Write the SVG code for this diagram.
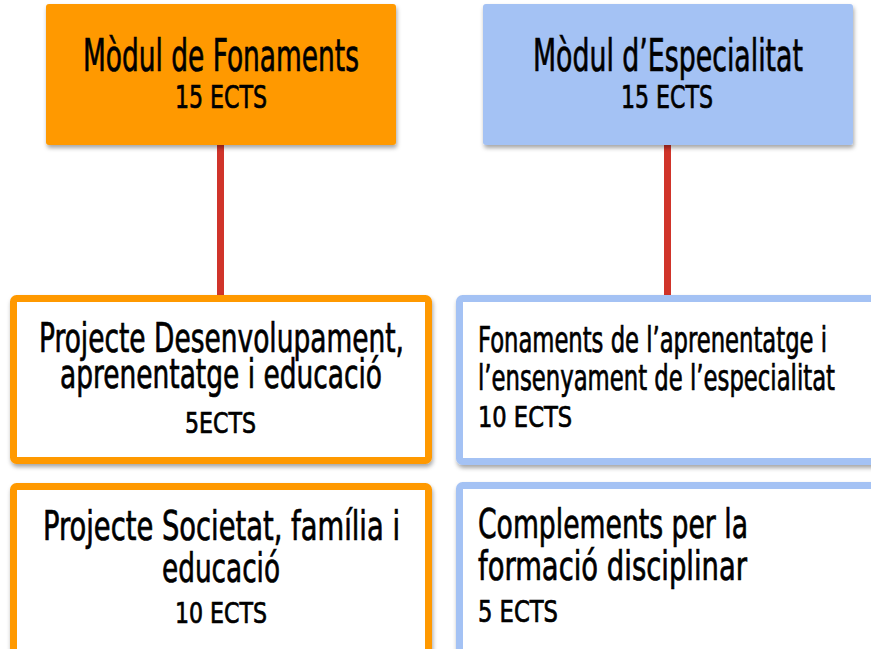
<svg xmlns="http://www.w3.org/2000/svg" width="871" height="649" viewBox="0 0 871 649">
<defs>
<filter id="sh" x="-10%" y="-10%" width="120%" height="130%">
<feDropShadow dx="1" dy="3" stdDeviation="2" flood-color="#000" flood-opacity="0.35"/>
</filter>
<style>
text{font-family:"Liberation Sans Narrow","DejaVu Sans Condensed","Liberation Sans",sans-serif;fill:#000;stroke:#000;stroke-width:0.7;}
.c{text-anchor:middle;}
.conn{stroke:#d0342a;stroke-width:7;fill:none;}
.or{fill:#fff;stroke:#ff9900;stroke-width:7;}
.bl{fill:#fff;stroke:#a4c2f4;stroke-width:7;}
</style>
</defs>
<rect width="871" height="649" fill="#fff"/>
<g id="connectors">
<line class="conn" x1="220.5" y1="140" x2="220.5" y2="300"/>
<line class="conn" x1="667.5" y1="140" x2="667.5" y2="300"/>
</g>
<g id="fonaments">
<rect x="46" y="4" width="350" height="141" rx="3" fill="#ff9900" filter="url(#sh)"/>
<text x="221" y="71" class="c" font-size="45" textLength="276" lengthAdjust="spacingAndGlyphs">Mòdul de Fonaments</text>
<text x="221" y="108" class="c" font-size="32" textLength="92" lengthAdjust="spacingAndGlyphs">15 ECTS</text>
</g>
<g id="especialitat">
<rect x="483" y="4" width="370" height="141" rx="3" fill="#a4c2f4" filter="url(#sh)"/>
<text x="668" y="71" class="c" font-size="45" textLength="270" lengthAdjust="spacingAndGlyphs">Mòdul d’Especialitat</text>
<text x="667" y="108" class="c" font-size="32" textLength="92" lengthAdjust="spacingAndGlyphs">15 ECTS</text>
</g>
<g id="desenvolupament">
<rect class="or" x="13.5" y="298.5" width="415" height="162" rx="3" filter="url(#sh)"/>
<text x="221.5" y="352" class="c" font-size="41" textLength="365" lengthAdjust="spacingAndGlyphs">Projecte Desenvolupament,</text>
<text x="221" y="388" class="c" font-size="41" textLength="322" lengthAdjust="spacingAndGlyphs">aprenentatge i educació</text>
<text x="220.5" y="433" class="c" font-size="29" textLength="71" lengthAdjust="spacingAndGlyphs">5ECTS</text>
</g>
<g id="aprenentatge">
<rect class="bl" x="459.5" y="298.5" width="425" height="163" rx="3" filter="url(#sh)"/>
<text x="478" y="352" font-size="35" textLength="349" lengthAdjust="spacingAndGlyphs">Fonaments de l’aprenentatge i</text>
<text x="478" y="390" font-size="35" textLength="357" lengthAdjust="spacingAndGlyphs">l’ensenyament de l’especialitat</text>
<text x="478" y="427" font-size="29" textLength="94" lengthAdjust="spacingAndGlyphs">10 ECTS</text>
</g>
<g id="societat">
<rect class="or" x="13.5" y="486.5" width="415" height="175" rx="3" filter="url(#sh)"/>
<text x="221.5" y="540" class="c" font-size="41" textLength="357" lengthAdjust="spacingAndGlyphs">Projecte Societat, família i</text>
<text x="221" y="582" class="c" font-size="41" textLength="118" lengthAdjust="spacingAndGlyphs">educació</text>
<text x="221" y="623" class="c" font-size="29" textLength="92" lengthAdjust="spacingAndGlyphs">10 ECTS</text>
</g>
<g id="complements">
<rect class="bl" x="459.5" y="485.5" width="425" height="175" rx="3" filter="url(#sh)"/>
<text x="478" y="538" font-size="41" textLength="270" lengthAdjust="spacingAndGlyphs">Complements per la</text>
<text x="478" y="580" font-size="41" textLength="269" lengthAdjust="spacingAndGlyphs">formació disciplinar</text>
<text x="478" y="622" font-size="30" textLength="80" lengthAdjust="spacingAndGlyphs">5 ECTS</text>
</g>
</svg>
